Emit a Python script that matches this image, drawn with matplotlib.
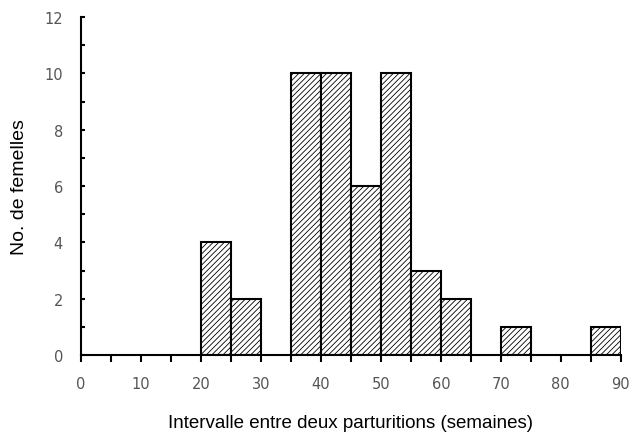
import numpy as np
import matplotlib.pyplot as plt

# histogram bins (left edges, weeks) and counts of females
bin_left = [20, 25, 35, 40, 45, 50, 55, 60, 70, 85]
counts = [4, 2, 10, 10, 6, 10, 3, 2, 1, 1]
bin_width = 5

plt.rcParams['hatch.linewidth'] = 0.6

fig = plt.figure(figsize=(6.38, 4.39), dpi=100)
ax = fig.add_axes([0.127, 0.189, 0.846, 0.77])

ax.bar(bin_left, counts, width=bin_width, align='edge', color='white',
       edgecolor='black', linewidth=1.5, hatch='//////')

ax.set_xlim(0, 90)
ax.set_ylim(0, 12)
ax.set_xticks(np.arange(0, 91, 10))
ax.set_xticks(np.arange(0, 91, 5), minor=True)
ax.set_yticks(np.arange(0, 13, 2))
ax.set_yticks(np.arange(0, 13, 1), minor=True)

for s in ['top', 'right']:
    ax.spines[s].set_visible(False)
for s in ['left', 'bottom']:
    ax.spines[s].set_linewidth(1.5)

ax.tick_params(axis='x', which='both', direction='out', length=5, width=1.5,
               pad=10, labelsize=10.5, labelcolor='#555555')
ax.tick_params(axis='y', which='both', direction='in', length=3, width=1.5,
               pad=13, labelsize=10.5, labelcolor='#555555')

ax.set_xlabel('Intervalle entre deux parturitions (semaines)',
              family='Liberation Sans', fontsize=13.5, labelpad=17)
ax.set_ylabel('No. de femelles', family='Liberation Sans', fontsize=14,
              labelpad=12)

fig.savefig('out.png', dpi=100)
